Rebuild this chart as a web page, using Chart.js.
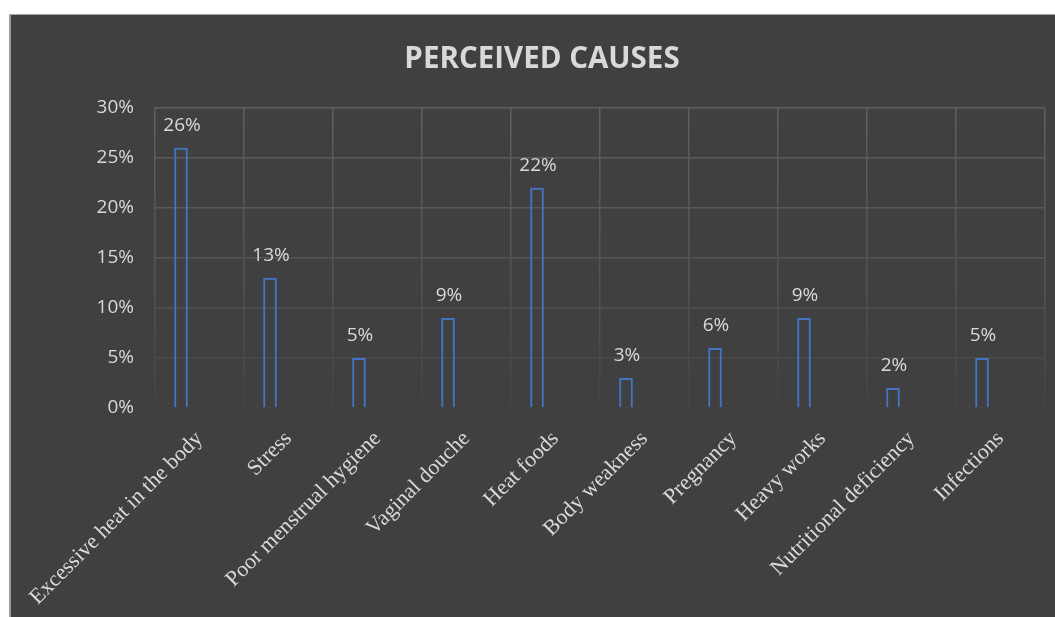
<!DOCTYPE html>
<html><head><meta charset="utf-8">
<script src="https://cdn.jsdelivr.net/npm/chart.js@4"></script>
<style>
html,body{margin:0;padding:0;background:#fff;overflow:hidden;width:1055px;height:617px;}
#frame{position:absolute;left:9px;top:14px;width:1100px;height:603px;border-left:2px solid #9b9b9b;border-top:1px solid #a8a8a8;background:#404040;}
#wrap{position:absolute;left:11px;top:15px;width:1062px;height:602px;}
</style>
</head><body>
<div id="frame"></div>
<div id="wrap"><canvas id="c" width="1062" height="602"></canvas></div>
<script>
const categories = ['Excessive heat in the body','Stress','Poor menstrual hygiene','Vaginal douche','Heat foods','Body weakness','Pregnancy','Heavy works','Nutritional deficiency','Infections'];
const causeValues = [26, 13, 5, 9, 22, 3, 6, 9, 2, 5];
const emptySeries = [null, null, null, null, null, null, null, null, null, null];
const yTicks = [0, 5, 10, 15, 20, 25, 30];

const TEXT = '#d9d9d9';

function gridGradient(context) {
  const chart = context.chart;
  const area = chart.chartArea;
  if (!area) return '#595959';
  const g = chart.ctx.createLinearGradient(0, area.top, 0, area.bottom);
  g.addColorStop(0, '#5f5f5f');
  g.addColorStop(0.6, '#535353');
  g.addColorStop(1, '#434343');
  return g;
}

const valueLabels = {
  id: 'valueLabels',
  afterDatasetsDraw(chart) {
    const ctx = chart.ctx;
    const meta = chart.getDatasetMeta(0);
    ctx.save();
    ctx.font = '19px "Open Sans"';
    ctx.fillStyle = TEXT;
    ctx.textAlign = 'center';
    ctx.textBaseline = 'alphabetic';
    meta.data.forEach((bar, i) => {
      ctx.fillText(causeValues[i] + '%', bar.x + 1, bar.y - 16.5);
    });
    ctx.restore();
  }
};

new Chart(document.getElementById('c'), {
  type: 'bar',
  data: {
    labels: categories,
    datasets: [
      { data: causeValues, backgroundColor: 'rgba(0,0,0,0)', borderColor: '#4472C4', borderWidth: 2,
        categoryPercentage: 0.831, barPercentage: 0.37 },
      { data: emptySeries, backgroundColor: 'rgba(0,0,0,0)', borderWidth: 0,
        categoryPercentage: 0.831, barPercentage: 0.37 }
    ]
  },
  options: {
    responsive: false,
    animation: false,
    layout: { padding: 0 },
    plugins: {
      legend: { display: false },
      tooltip: { enabled: false },
      title: {
        display: true,
        text: 'PERCEIVED CAUSES',
        color: TEXT,
        font: { family: '"Open Sans"', size: 29.5, weight: 'bold', lineHeight: 1.2 },
        padding: { top: 26.4, bottom: 30.9 }
      }
    },
    scales: {
      x: {
        grid: { color: gridGradient, lineWidth: 1.5, drawTicks: false, offset: true },
        border: { display: false },
        ticks: {
          color: TEXT, autoSkip: false, minRotation: 45, maxRotation: 45, padding: 18,
          font: { family: '"Liberation Serif"', size: 22 }
        },
        afterFit(scale) { scale.height = 209; scale.paddingLeft = 0; scale.paddingRight = 0; }
      },
      y: {
        min: 0, max: 30,
        afterBuildTicks(scale) { scale.ticks = yTicks.map(v => ({ value: v })); },
        grid: { color: gridGradient, lineWidth: 1.5, drawTicks: false },
        border: { display: false },
        ticks: {
          color: TEXT, padding: 21,
          font: { family: '"Open Sans"', size: 19 },
          callback: v => v + '%'
        },
        afterFit(scale) { scale.width = 144; scale.paddingTop = 0; scale.paddingBottom = 0; }
      },
      yRightSpace: {
        position: 'right',
        display: true,
        grid: { display: false },
        border: { display: false },
        ticks: { display: false },
        afterFit(scale) { scale.width = 28; }
      }
    }
  },
  plugins: [valueLabels]
});
</script>
</body></html>
